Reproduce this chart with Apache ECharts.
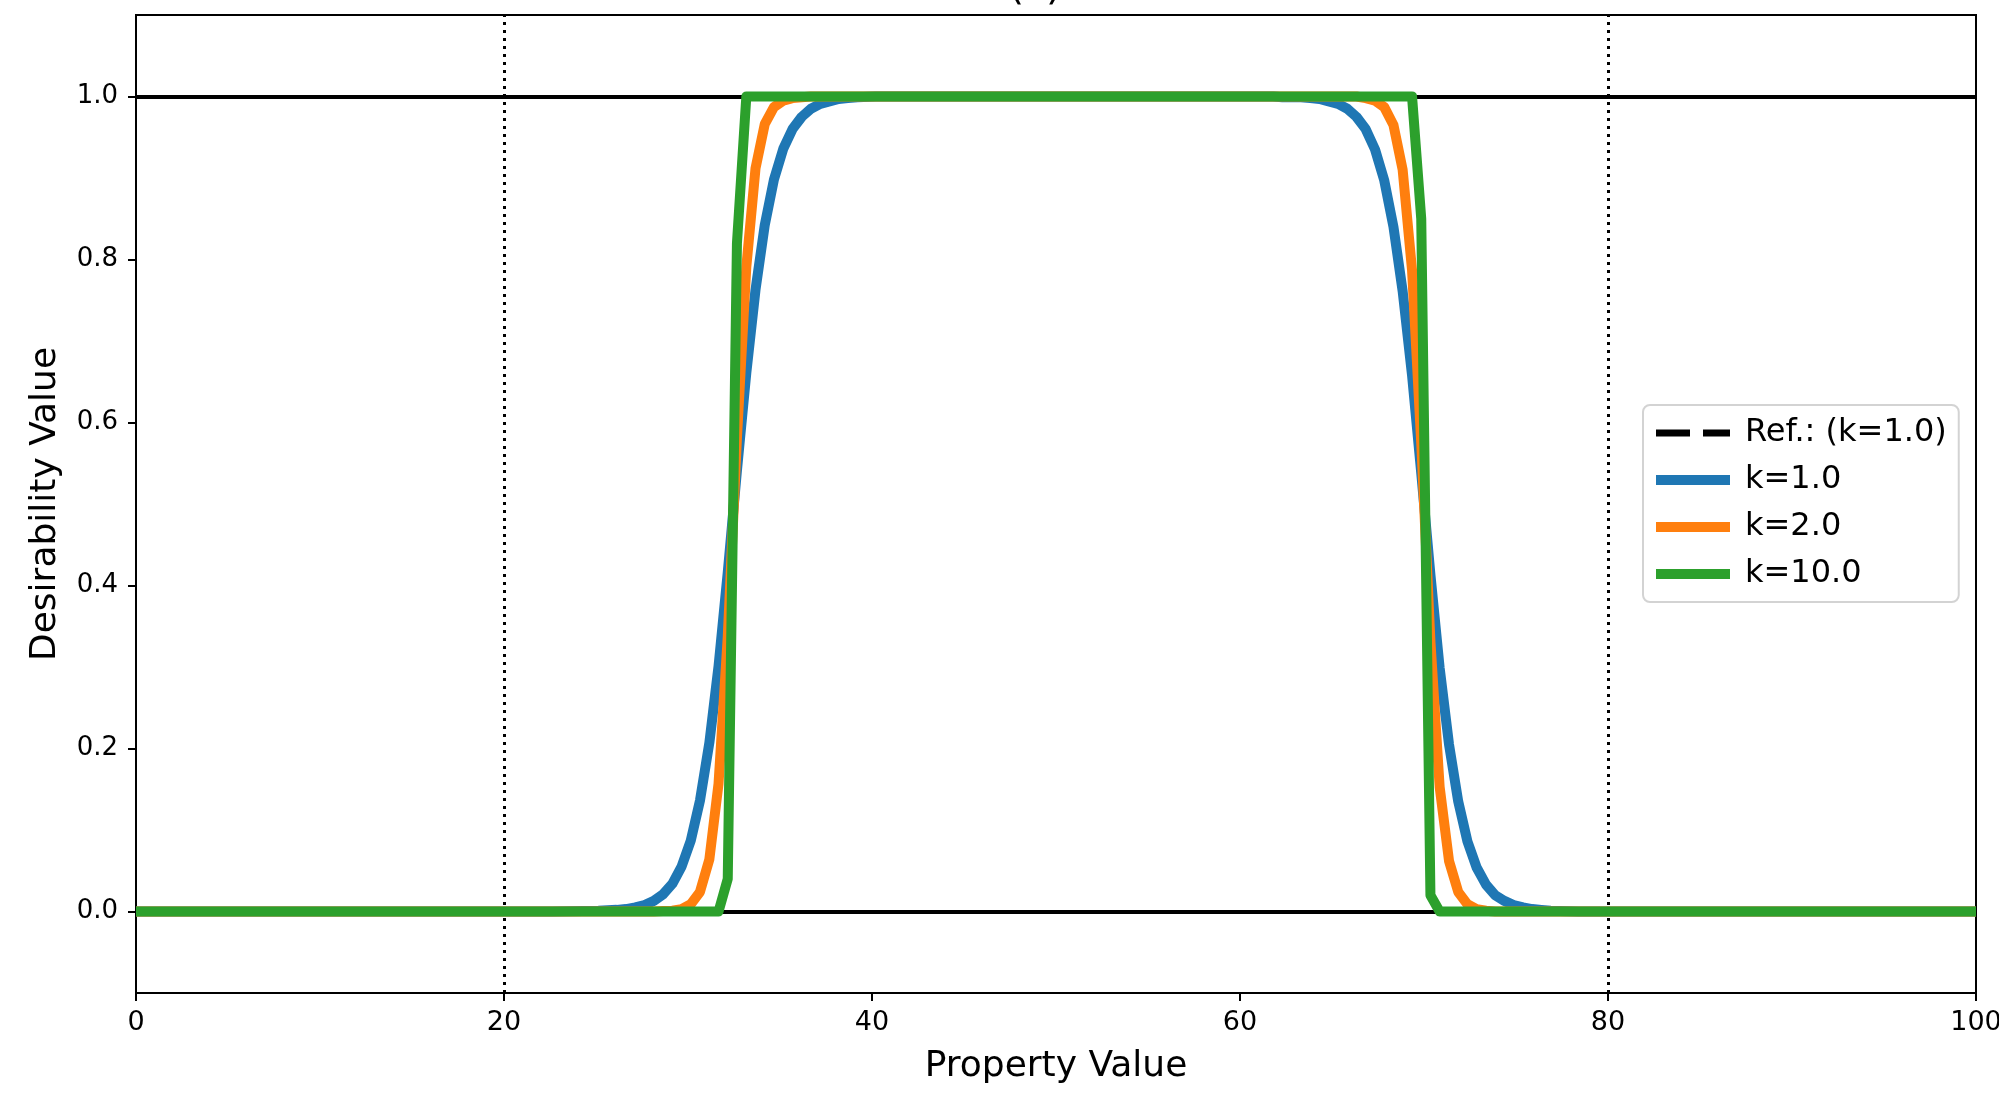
<!DOCTYPE html>
<html>
<head>
<meta charset="utf-8">
<script src="https://cdn.jsdelivr.net/npm/echarts@6/dist/echarts.min.js"></script>
<style>
html,body{margin:0;padding:0;background:#fff;}
#chart{width:1999px;height:1094px;}
</style>
</head>
<body>
<div id="chart"></div>
<script>
// ---- data ----
const titleText = '(c) U';
const xName = 'Property Value';
const yName = 'Desirability Value';
const xTicks = [0, 20, 40, 60, 80, 100];
const yTicks = [0.0, 0.2, 0.4, 0.6, 0.8, 1.0];
const vLines = [20, 80];
const hLines = [0, 1];
const seriesNames = ['Ref.: (k=1.0)', 'k=1.0', 'k=2.0', 'k=10.0'];

const k1Points = [[0,0],[22.61,0],[25.13,0.001],[26.13,0.002],[26.63,0.003],[27.14,0.005],[27.64,0.008],[28.14,0.013],[28.64,0.021],[29.15,0.034],[29.65,0.055],[30.15,0.087],[30.65,0.136],[31.16,0.207],[31.66,0.301],[32.16,0.416],[32.66,0.541],[33.17,0.661],[33.67,0.763],[34.17,0.842],[34.67,0.898],[35.18,0.936],[35.68,0.96],[36.18,0.975],[36.68,0.985],[37.19,0.991],[37.69,0.994],[38.19,0.997],[38.69,0.998],[39.2,0.999],[40.2,1],[61.81,1],[62.31,0.999],[63.32,0.999],[63.82,0.998],[64.32,0.997],[64.82,0.994],[65.33,0.991],[65.83,0.985],[66.33,0.975],[66.83,0.96],[67.34,0.935],[67.84,0.897],[68.34,0.84],[68.84,0.761],[69.35,0.658],[69.85,0.538],[70.35,0.413],[70.85,0.299],[71.36,0.205],[71.86,0.135],[72.36,0.086],[72.86,0.054],[73.37,0.033],[73.87,0.02],[74.37,0.013],[74.87,0.008],[75.38,0.005],[75.88,0.003],[76.38,0.002],[76.88,0.001],[78.39,0],[100,0]];
const refPoints = k1Points;
const k2Points = [[0,0],[28.14,0],[28.64,0.0005],[29.15,0.001],[29.65,0.003],[30.15,0.009],[30.65,0.024],[31.16,0.064],[31.66,0.157],[32.16,0.337],[32.66,0.581],[33.17,0.791],[33.67,0.912],[34.17,0.966],[34.67,0.987],[35.18,0.995],[35.68,0.998],[36.18,0.999],[36.68,1],[66.33,1],[66.83,0.998],[67.34,0.995],[67.84,0.987],[68.34,0.965],[68.84,0.91],[69.35,0.787],[69.85,0.575],[70.35,0.331],[70.85,0.153],[71.36,0.062],[71.86,0.024],[72.36,0.009],[72.86,0.003],[73.37,0.001],[73.87,0],[100,0]];
const k10Points = [[0,0],[31.66,0],[32.16,0.04],[32.66,0.82],[33.17,1],[69.35,1],[69.85,0.85],[70.35,0.02],[70.85,0],[100,0]];

const colors = ['#000000', '#1f77b4', '#ff7f0e', '#2ca02c'];
const FONT = 'DejaVu Sans';

const chart = echarts.init(document.getElementById('chart'), null, {renderer: 'canvas'});

function curve(name, data, color, width, type, z) {
  return {
    name: name, type: 'line', data: data, showSymbol: false, symbol: 'none',
    lineStyle: {color: color, width: width, type: type, cap: 'butt', join: 'round'},
    itemStyle: {color: color},
    silent: true, animation: false, z: z
  };
}

const option = {
  animation: false,
  backgroundColor: '#ffffff',
  graphic: [{
    type: 'text', x: 1056, y: 9, z: 100,
    style: {text: titleText, fontSize: 40, fontFamily: FONT, fill: '#000',
            align: 'center', verticalAlign: 'bottom'}
  }],
  grid: {left: 136, right: 23, top: 15, bottom: 101, show: true, outerBoundsMode: 'none',
         containLabel: false,
         borderColor: '#000', borderWidth: 2, backgroundColor: 'transparent'},
  legend: {
    orient: 'vertical', left: 1643, top: 405,
    padding: [10, 12, 10, 8], itemGap: 11,
    itemWidth: 74, itemHeight: 12,
    backgroundColor: '#fff', borderColor: '#d3d3d3', borderWidth: 2, borderRadius: 7,
    textStyle: {fontSize: 32, fontFamily: FONT, color: '#000', lineHeight: 36, padding: [0, 0, 0, 10]},
    itemStyle: {opacity: 0, borderWidth: 0},
    selectedMode: false,
    data: [
      {name: seriesNames[0], itemStyle: {opacity: 0}, lineStyle: {width: 7, type: [4, 0.0001, 30, 13], color: '#000'}},
      {name: seriesNames[1], itemStyle: {opacity: 0}, lineStyle: {width: 10, color: colors[1]}},
      {name: seriesNames[2], itemStyle: {opacity: 0}, lineStyle: {width: 10, color: colors[2]}},
      {name: seriesNames[3], itemStyle: {opacity: 0}, lineStyle: {width: 10, color: colors[3]}}
    ]
  },
  xAxis: {
    type: 'value', min: xTicks[0], max: xTicks[xTicks.length - 1], interval: 20,
    name: xName, nameLocation: 'middle', nameGap: 56,
    nameTextStyle: {fontSize: 36, fontFamily: FONT, color: '#000'},
    axisLine: {show: true, onZero: false, lineStyle: {color: '#000', width: 2}},
    axisTick: {show: true, inside: false, length: 8, lineStyle: {color: '#000', width: 2}},
    axisLabel: {fontSize: 27, fontFamily: FONT, color: '#000', margin: 16, showMaxLabel: true, showMinLabel: true, hideOverlap: false},
    splitLine: {show: false}
  },
  yAxis: {
    type: 'value', min: -0.1, max: 1.1,
    name: yName, nameLocation: 'middle', nameGap: 72, nameRotate: 90,
    nameTextStyle: {fontSize: 36, fontFamily: FONT, color: '#000'},
    axisLine: {show: true, onZero: false, lineStyle: {color: '#000', width: 2}},
    axisTick: {show: true, inside: false, length: 8, lineStyle: {color: '#000', width: 2}, customValues: yTicks},
    axisLabel: {fontSize: 26, fontFamily: FONT, color: '#000', margin: 18, customValues: yTicks,
                formatter: function (v) { return v.toFixed(1); }},
    splitLine: {show: false}
  },
  series: [
    curve(seriesNames[0], refPoints, colors[0], 7, [30, 13], 2),
    curve(seriesNames[1], k1Points, colors[1], 10, 'solid', 3),
    curve(seriesNames[2], k2Points, colors[2], 10, 'solid', 4),
    curve(seriesNames[3], k10Points, colors[3], 10, 'solid', 5),
    {
      name: 'guides', type: 'line', data: [], z: 10, silent: true, animation: false,
      markLine: {
        silent: true, symbol: ['none', 'none'], label: {show: false}, animation: false,
        data: hLines.map(function (v) { return {yAxis: v, lineStyle: {color: '#000', width: 4, type: 'solid'}}; })
          .concat(vLines.map(function (v) { return {xAxis: v, lineStyle: {color: '#000', width: 3, type: [3, 5]}}; }))
      }
    }
  ]
};
chart.setOption(option);
</script>
</body>
</html>
